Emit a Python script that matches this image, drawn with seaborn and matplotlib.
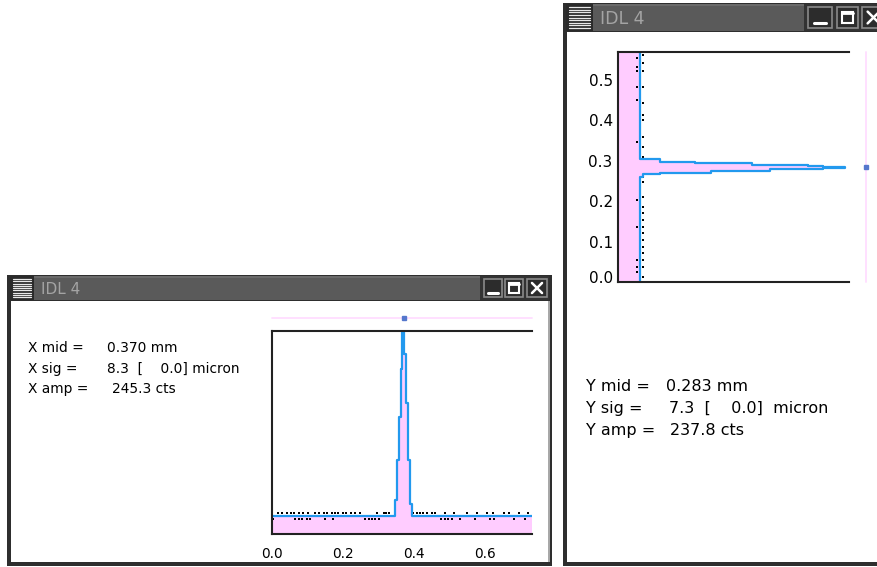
import numpy as np
import matplotlib
matplotlib.use("Agg")
import matplotlib.pyplot as plt
from matplotlib.patches import Rectangle
from matplotlib.transforms import ScaledTranslation
import seaborn as sns

# ---- X profile (left window): bin edges in mm, counts per bin
x_edges = [0.0, 0.346, 0.352, 0.357, 0.362, 0.367, 0.373, 0.378, 0.383, 0.388, 0.395, 0.732]
x_counts = [24, 45, 98, 156, 220, 269, 240, 174, 98, 40, 24]
# raw points scattered round the baseline
x_dots_hi = [0.018, 0.027, 0.041, 0.053, 0.063, 0.077, 0.086, 0.100, 0.121, 0.131, 0.145,
             0.154, 0.168, 0.177, 0.187, 0.199, 0.208, 0.222, 0.234, 0.248, 0.295, 0.314,
             0.321, 0.328, 0.398, 0.408, 0.417, 0.426, 0.436, 0.450, 0.459, 0.487, 0.511,
             0.548, 0.577, 0.605, 0.623, 0.652, 0.666, 0.694, 0.722]
x_dots_lo = [0.004, 0.065, 0.075, 0.085, 0.098, 0.108, 0.150, 0.172, 0.262, 0.272, 0.281,
             0.290, 0.300, 0.477, 0.487, 0.496, 0.506, 0.530, 0.572, 0.614, 0.624, 0.680, 0.713]
x_fit_level = 287.6
x_mid = 0.371

# ---- Y profile (right window): bin edges in mm, counts per bin
y_edges = [0.0, 0.2606, 0.2673, 0.2705, 0.2755, 0.2790, 0.2814, 0.2839, 0.2879, 0.2904,
           0.2938, 0.2978, 0.3045, 0.570]
y_counts = [25, 29, 48, 108, 176, 238, 263, 238, 220, 155, 89, 48, 25]
y_dots_hi = [0.562, 0.541, 0.521, 0.483, 0.442, 0.413, 0.401, 0.360, 0.335, 0.310, 0.261,
             0.248, 0.211, 0.186, 0.170, 0.153, 0.137, 0.121, 0.104, 0.087, 0.071, 0.054,
             0.038, 0.013]
y_dots_lo = [0.554, 0.533, 0.521, 0.483, 0.450, 0.347, 0.203, 0.137, 0.054, 0.038, 0.025]
y_fit_level = 287.0
y_mid = 0.284

x_labels = ["X mid =", "X sig =", "X amp ="]
x_values = ["0.370 mm", "8.3  [    0.0] micron", "245.3 cts"]
y_labels = ["Y mid =", "Y sig =", "Y amp ="]
y_values = ["0.283 mm", "7.3  [    0.0]  micron", "237.8 cts"]
x_ticks = [0.0, 0.2, 0.4, 0.6]
y_ticks = [0.0, 0.1, 0.2, 0.3, 0.4, 0.5]

PINK = "#ffccff"
BLUE = "#2299ee"
FAINT = "#ffe0ff"

sns.set_theme(style="white")
plt.rcParams["font.family"] = ["DejaVu Sans"]

W, H = 878, 567
fig = plt.figure(figsize=(W / 100, H / 100), dpi=100)
fig.patch.set_facecolor("white")

bg = fig.add_axes([0, 0, 1, 1])
bg.set_xlim(0, W)
bg.set_ylim(H, 0)
bg.axis("off")


def rect(x0, y0, x1, y1, color, **kw):
    bg.add_patch(Rectangle((x0, y0), x1 - x0, y1 - y0, facecolor=color, edgecolor="none", **kw))


def window(x0, y0, x1, y1, tb, icon_w, btns, fs):
    rect(x0, y0, x1, y1, "#2e2e2e")
    rect(x0 + 4, y0 + tb, x1 - 4, y1 - 4, "white")
    rect(x0 + 3, y0 + 1, x1 - 3, y0 + tb - 1, "#5a5a5a")
    rect(x0 + 3, y0 + 1, x1 - 3, y0 + 3, "#6a6a6a")
    # menu icon
    rect(x0 + 3, y0 + 1, x0 + 3 + icon_w, y0 + tb - 1, "#2a2a2a")
    for yy in np.linspace(y0 + 4, y0 + tb - 4, 9):
        bg.plot([x0 + 6, x0 + icon_w], [yy, yy], color="#e8e8e8", lw=0.9)
    bg.text(x0 + icon_w + 10, y0 + tb / 2 + 1, "IDL 4", color="#a4a4a4",
            fontsize=fs, va="center", ha="left")
    # button zone
    rect(btns[0][0] - 4, y0 + 1, x1 - 3, y0 + tb - 1, "#333333")
    for i, (bx0, bx1) in enumerate(btns):
        by0, by1 = y0 + 4, y0 + tb - 4
        bg.add_patch(Rectangle((bx0, by0), bx1 - bx0, by1 - by0, facecolor="#2c2c2c",
                               edgecolor="#8a8a8a", lw=1.2))
        cx, cy = (bx0 + bx1) / 2, (by0 + by1) / 2
        s = (by1 - by0) * 0.28
        if i == 0:
            bg.plot([cx - s, cx + s], [cy + s, cy + s], color="white", lw=2.2)
        elif i == 1:
            bg.add_patch(Rectangle((cx - s, cy - s), 2 * s, 2 * s, facecolor="none",
                                   edgecolor="white", lw=1.5))
            bg.plot([cx - s, cx + s], [cy - s + 1, cy - s + 1], color="white", lw=2.0)
        else:
            bg.plot([cx - s, cx + s], [cy - s, cy + s], color="white", lw=1.8)
            bg.plot([cx - s, cx + s], [cy + s, cy - s], color="white", lw=1.8)


window(7, 275, 552, 566, 26, 24, [(484, 502), (505, 523), (527, 547)], 11)
window(563, 3, 950, 566, 29, 27, [(808, 832), (837, 858), (862, 885)], 12.5)
rect(548, 301, 550, 562, "#a8a8a8")

# readout texts
for i, (lab, val) in enumerate(zip(x_labels, x_values)):
    bg.text(28, 352.5 + 20.3 * i, lab, fontsize=9.9, va="baseline", color="black")
    bg.text(107 if i < 2 else 112, 352.5 + 20.3 * i, val, fontsize=9.9, va="baseline", color="black")
for i, (lab, val) in enumerate(zip(y_labels, y_values)):
    bg.text(586, 390.7 + 22.2 * i, lab, fontsize=11.5, va="baseline", color="black")
    bg.text([666, 669, 670][i], 390.7 + 22.2 * i, val, fontsize=11.5, va="baseline", color="black")


def px_box(x0, y0, x1, y1):
    return [x0 / W, (H - y1) / H, (x1 - x0) / W, (y1 - y0) / H]


def style_axes(ax, fs):
    for side in ["left", "top", "bottom"]:
        ax.spines[side].set_visible(True)
        ax.spines[side].set_color("#222222")
        ax.spines[side].set_linewidth(1.5)
    ax.spines["right"].set_visible(False)
    ax.set_facecolor("none")
    ax.tick_params(length=0, labelsize=fs, colors="black")


# ---- left window plot: X profile
axl = fig.add_axes(px_box(272, 331, 532, 534))
xs = np.repeat(x_edges, 2)[1:-1]
xc = np.repeat(x_counts, 2)
axl.fill_between(xs, 0, xc, color=PINK, lw=0)
sns.lineplot(x=xs, y=xc, sort=False, estimator=None, color=BLUE, lw=1.6, ax=axl)
sns.scatterplot(x=x_dots_hi, y=[28.5] * len(x_dots_hi), color="black", s=2.5, marker="s",
                linewidth=0, ax=axl)
sns.scatterplot(x=x_dots_lo, y=[20.5] * len(x_dots_lo), color="black", s=2.5, marker="s",
                linewidth=0, ax=axl)
axl.axhline(x_fit_level, color=FAINT, lw=1.4, clip_on=False)
axl.plot([x_mid], [x_fit_level], "s", color="#5577cc", ms=2.5, clip_on=False)
axl.set_xlim(0, 0.732)
axl.set_ylim(0, 270)
axl.set_xticks(x_ticks)
axl.set_xticklabels([f"{t:.1f}" for t in x_ticks])
axl.set_yticks([])
axl.set_xlabel("")
axl.set_ylabel("")
style_axes(axl, 9.8)
axl.tick_params(axis="x", pad=9)

# ---- right window plot: Y profile
axr = fig.add_axes(px_box(618.3, 51.7, 849.3, 282))
ys = np.repeat(y_edges, 2)[1:-1]
yc = np.repeat(y_counts, 2)
axr.fill_betweenx(ys, 0, yc, color=PINK, lw=0)
sns.lineplot(x=yc, y=ys, sort=False, estimator=None, color=BLUE, lw=1.6, ax=axr)
sns.scatterplot(x=[28.5] * len(y_dots_hi), y=y_dots_hi, color="black", s=2.5, marker="s",
                linewidth=0, ax=axr)
sns.scatterplot(x=[21.5] * len(y_dots_lo), y=y_dots_lo, color="black", s=2.5, marker="s",
                linewidth=0, ax=axr)
axr.axvline(y_fit_level, color=FAINT, lw=1.4, clip_on=False)
axr.plot([y_fit_level], [y_mid], "s", color="#5577cc", ms=2.5, clip_on=False)
axr.set_xlim(0, 268)
axr.set_ylim(0, 0.570)
axr.set_yticks(y_ticks)
axr.set_yticklabels([f"{t:.1f}" for t in y_ticks])
axr.set_xticks([])
axr.set_xlabel("")
axr.set_ylabel("")
style_axes(axr, 11)
axr.tick_params(axis="y", pad=4)
# IDL lifts the bottom label off the axis
first = axr.get_yticklabels()[0]
first.set_transform(first.get_transform() + ScaledTranslation(0, 0.05, fig.dpi_scale_trans))

fig.savefig("out.png", dpi=100)
